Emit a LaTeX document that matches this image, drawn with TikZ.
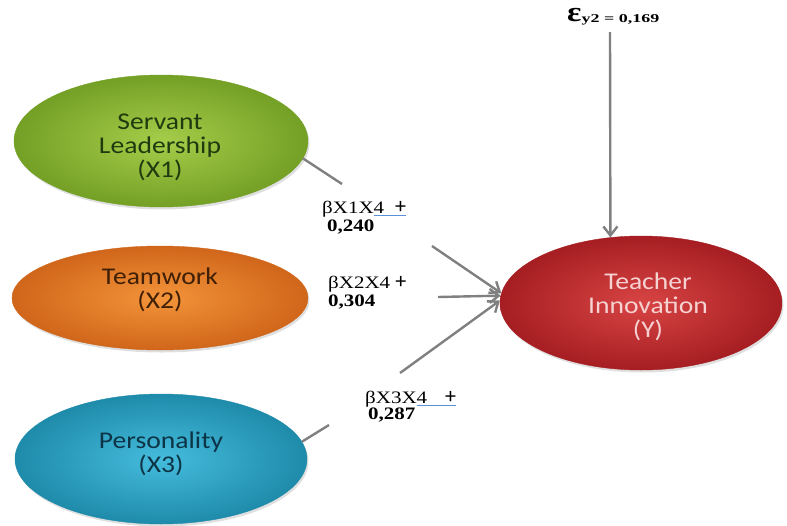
\documentclass[tikz,border=0pt]{standalone}
\usepackage{fontspec}
\usetikzlibrary{shapes.geometric,arrows.meta,shadows}
\newfontfamily\ellfont[FakeStretch=1.15]{Carlito}
\newfontfamily\labfont[FakeStretch=1.2]{Liberation Serif}
\newfontfamily\subfont[FakeStretch=1.5]{Liberation Serif}
\newfontfamily\plusfont{Carlito}
\definecolor{grin}{HTML}{A6CD4A}
\definecolor{grout}{HTML}{73A025}
\definecolor{grtxt}{HTML}{1E3B0F}
\definecolor{orin}{HTML}{F3943A}
\definecolor{orout}{HTML}{D0661A}
\definecolor{ortxt}{HTML}{3F1F05}
\definecolor{blin}{HTML}{45BCDC}
\definecolor{blout}{HTML}{1F8BAB}
\definecolor{bltxt}{HTML}{0D3446}
\definecolor{rdin}{HTML}{D84444}
\definecolor{rdout}{HTML}{A61E22}
\definecolor{rdtxt}{HTML}{F6D2D2}
\definecolor{linegray}{HTML}{808080}
\definecolor{ulblue}{HTML}{5B8FD8}
\newcommand\blueul[1]{\setbox0\hbox{#1}\rlap{\color{ulblue}\rule[-2.6pt]{\wd0}{1.1pt}}\box0}
\newcommand\bigplus{{\plusfont\fontsize{22}{22}\selectfont +}}
\begin{document}
\begin{tikzpicture}[x=1pt,y=-1pt,
  ell/.style={ellipse, inner sep=0pt, drop shadow={opacity=0.25, shadow xshift=1.5pt, shadow yshift=-2.5pt}},
  etext/.style={font=\ellfont\fontsize{24}{24}\selectfont, align=center, inner sep=0pt},
  lab/.style={font=\labfont\fontsize{17.5}{18}\selectfont, inner sep=0pt, anchor=base west},
  labb/.style={font=\labfont\bfseries\fontsize{17.5}{18}\selectfont, inner sep=0pt, anchor=base west},
  conn/.style={draw=linegray, line width=2.4pt},
  arr/.style={conn, -{Straight Barb[length=9pt,width=14pt]}}]
\useasboundingbox (0,0) rectangle (787,525);
% ellipses
\node[ell, minimum width=294pt, minimum height=132pt, inner color=grin, outer color=grout, draw=grout] (X1) at (161,141) {};
\node[ell, minimum width=296pt, minimum height=104pt, inner color=orin, outer color=orout, draw=orout] (X2) at (160,298) {};
\node[ell, minimum width=292pt, minimum height=130pt, inner color=blin, outer color=blout, draw=blout] (X3) at (161,459) {};
\node[ell, minimum width=282pt, minimum height=134pt, inner color=rdin, outer color=rdout, draw=rdout] (Y) at (641,303) {};
% ellipse texts
\node[etext, text=grtxt] (X1t) at (160,147) {Servant\\Leadership\\(X1)};
\node[etext, text=ortxt] (X2t) at (160,290) {Teamwork\\(X2)};
\node[etext, text=bltxt] (X3t) at (161,454) {Personality\\(X3)};
\node[etext, text=rdtxt] (Yt) at (648,307) {Teacher\\Innovation\\(Y)};
% error term
\node[inner sep=0pt, anchor=base west] (eps) at (567,21) {\labfont\bfseries\fontsize{28}{28}\selectfont ε\raisebox{-1pt}{\subfont\bfseries\fontsize{12}{12}\selectfont y2 = 0,169}};
% path labels
\node[lab] (L1a) at (322,213) {βX1X\blueul{4\hspace{11pt}\bigplus}};
\node[labb] (L1b) at (327,231) {0,240};
\node[lab] (L2a) at (328,288) {βX2X4 \bigplus};
\node[labb] (L2b) at (328,306) {0,304};
\node[lab] (L3a) at (365,403) {βX3X\blueul{4\hspace{18pt}\bigplus}};
\node[labb] (L3b) at (368,419) {0,287};
% connectors
\coordinate (a1) at (342,184);
\coordinate (b1) at (432,246);
\draw[conn] (X1.-7.5) -- (a1);
\draw[arr] (b1) -- (Y.176);
\coordinate (s2) at (438,297);
\draw[arr] (s2) -- (Y.177.6);
\coordinate (a3) at (329,425);
\coordinate (b3) at (400,373);
\draw[conn] (X3.7.8) -- (a3);
\draw[arr] (b3) -- (Y.179.6);
\coordinate (e0) at (610,32);
\draw[arr] (e0) -- (Y.115.4);
\end{tikzpicture}
\end{document}
